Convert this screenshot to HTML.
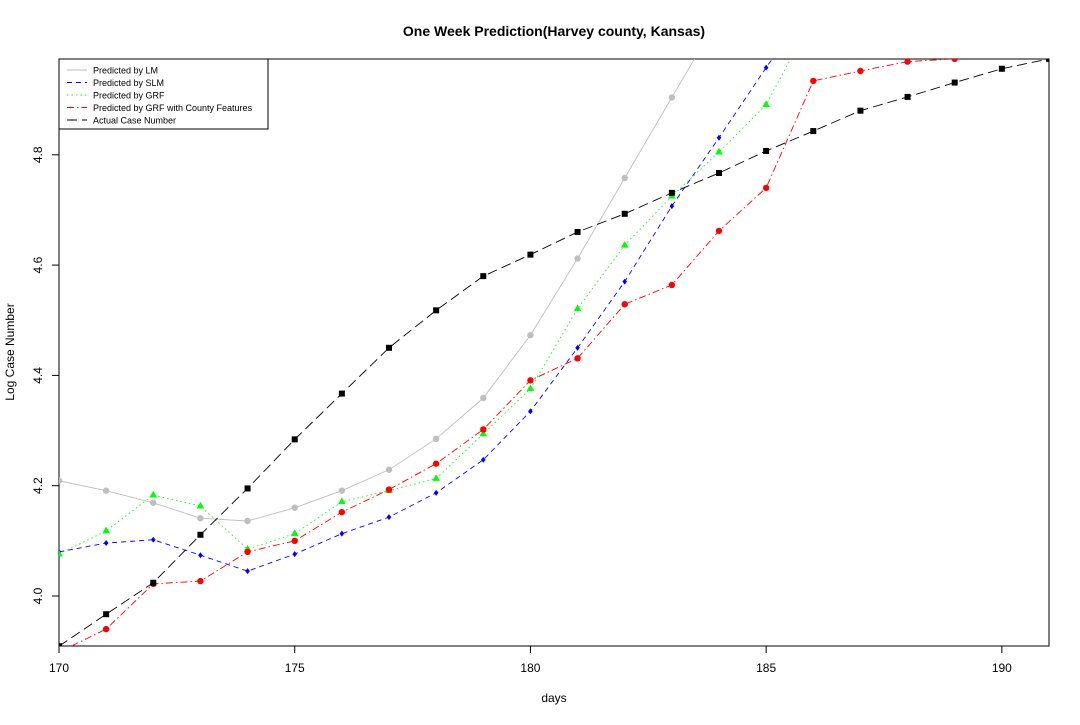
<!DOCTYPE html>
<html><head><meta charset="utf-8"><style>
body{margin:0;background:#fff}
svg text{font-family:"Liberation Sans",Arial,sans-serif}
</style></head><body>
<svg id="c" width="1080" height="720" xmlns="http://www.w3.org/2000/svg">
<defs><clipPath id="clip"><rect x="59" y="59" width="990" height="587"/></clipPath></defs>
<text x="554" y="36" text-anchor="middle" font-size="14" font-weight="bold">One Week Prediction(Harvey county, Kansas)</text>
<text x="554" y="702" text-anchor="middle" font-size="12">days</text>
<text transform="translate(14,352) rotate(-90)" text-anchor="middle" font-size="12">Log Case Number</text>
<rect x="59" y="59" width="990" height="587" fill="none" stroke="#000"/>
<g id="axes"></g>
<g id="series" clip-path="url(#clip)"></g>
<g id="legend"></g>
</svg>
<script>
const days=[170,171,172,173,174,175,176,177,178,179,180,181,182,183,184,185,186,187,188,189,190,191];
const xTicks=[170,175,180,185,190];
const yTicks=[4.0,4.2,4.4,4.6,4.8];
const lmVals=[4.209,4.191,4.169,4.141,4.136,4.160,4.191,4.229,4.285,4.359,4.473,4.612,4.758,4.904,5.05];
const slmVals=[4.080,4.096,4.102,4.074,4.045,4.076,4.113,4.143,4.187,4.247,4.335,4.450,4.570,4.707,4.831,4.958,5.08];
const grfVals=[4.076,4.118,4.183,4.163,4.085,4.113,4.171,4.191,4.213,4.294,4.376,4.521,4.636,4.725,4.805,4.891,5.05];
const grfcVals=[3.898,3.940,4.022,4.027,4.080,4.100,4.152,4.193,4.240,4.302,4.391,4.431,4.529,4.564,4.662,4.740,4.934,4.952,4.969,4.974,4.99,5.0];
const actualVals=[3.909,3.967,4.024,4.111,4.195,4.284,4.367,4.450,4.518,4.580,4.619,4.660,4.693,4.731,4.767,4.807,4.843,4.880,4.905,4.931,4.956,4.974];
const legendLabels=["Predicted by LM","Predicted by SLM","Predicted by GRF","Predicted by GRF with County Features","Actual Case Number"];
const NS="http://www.w3.org/2000/svg";
const X=d=>59+(d-170)*(990/21);
const Y=v=>596-(v-4.0)*(110.3/0.2);
function mk(tag,attrs,parent){const e=document.createElementNS(NS,tag);for(const k in attrs)e.setAttribute(k,attrs[k]);parent.appendChild(e);return e;}
const axes=document.getElementById('axes');
xTicks.forEach(t=>{
 const l=mk('line',{x1:X(t),x2:X(t),y1:646,y2:653,stroke:'#000'},axes);
 
 
 const tx=mk('text',{x:X(t),y:672,'text-anchor':'middle','font-size':12},axes);tx.textContent=t;
 
 
});
yTicks.forEach(t=>{
 const l=mk('line',{x1:52,x2:59,y1:Y(t),y2:Y(t),stroke:'#000'},axes);
 
 
 const tx=mk('text',{transform:`translate(42,${Y(t)}) rotate(-90)`,'text-anchor':'middle','font-size':12},axes);tx.textContent=t.toFixed(1);
 
 
});
const S=document.getElementById('series');
const specs=[
 {vals:lmVals,color:'#bebebe',dash:'',m:'circle',name:'lm'},
 {vals:slmVals,color:'#0000ff',dash:'5,4',m:'diamond',name:'slm'},
 {vals:grfVals,color:'#00ff00',dash:'1.5,3',m:'triangle',name:'grf'},
 {vals:grfcVals,color:'#ff0000',dash:'7,3,1.5,3',m:'circle',name:'grf-county'},
 {vals:actualVals,color:'#000',dash:'10,5',m:'square',name:'actual'}
];
function marker(p,kind,x,y,color){
 let e;
 if(kind==='circle')e=mk('circle',{cx:x,cy:y,r:3.2,fill:color},p);
 else if(kind==='square')e=mk('rect',{x:x-3,y:y-3,width:6,height:6,fill:color},p);
 else if(kind==='diamond')e=mk('polygon',{points:`${x},${y-3} ${x+2.3},${y} ${x},${y+3} ${x-2.3},${y}`,fill:color},p);
 else e=mk('polygon',{points:`${x},${y-4.3} ${x+3.8},${y+2.4} ${x-3.8},${y+2.4}`,fill:color},p);
 return e;
}
specs.forEach(s=>{
 const pts=s.vals.map((v,i)=>X(days[i])+','+Y(v)).join(' ');
 const pl=mk('polyline',{points:pts,fill:'none',stroke:s.color,'stroke-width':0.9,'stroke-dasharray':s.dash},S);
 
 
 s.vals.forEach((v,i)=>{
  const m=marker(S,s.m,X(days[i]),Y(v),s.color);
  
  
 });
});
const L=document.getElementById('legend');
const box=mk('rect',{x:59,y:59,width:209,height:70,fill:'#fff',stroke:'#000'},L);


legendLabels.forEach((lab,i)=>{
 const y=70+i*12.5;
 const ln=mk('line',{x1:67,x2:87,y1:y,y2:y,stroke:specs[i].color,'stroke-width':0.9,'stroke-dasharray':specs[i].dash},L);
 
 
 const t=mk('text',{x:93,y:y+3.5,'font-size':9},L);t.textContent=lab;
 
 
});
</script>
</body></html>
